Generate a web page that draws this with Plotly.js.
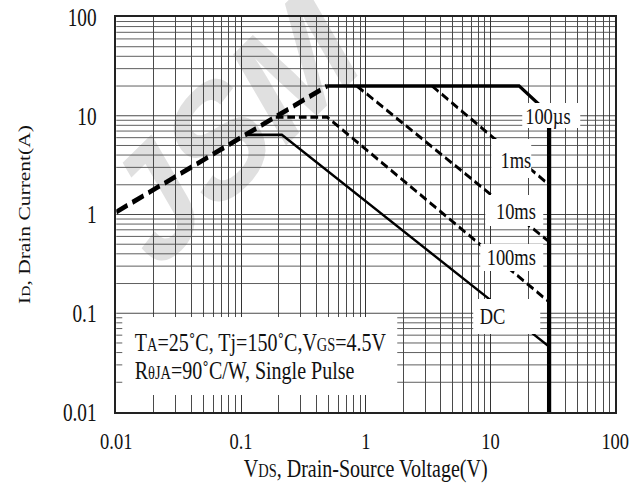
<!DOCTYPE html>
<html>
<head>
<meta charset="utf-8">
<script src="https://cdn.plot.ly/plotly-3.0.1.min.js"></script>
<style>
  html, body { margin: 0; padding: 0; overflow: hidden; background: #fff; }
  #wrap { width: 633px; height: 484px; overflow: hidden; }
  #chart { transform-origin: 0 0; }
</style>
</head>
<body>
<div id="wrap"><div id="chart"></div></div>
<script>
// ---- data (VDS in V, ID in A) ----
const rdsV   = [0.01, 0.49];
const rdsI   = [1.06, 20];
const us100V = [0.49, 17, 29.5];
const us100I = [20, 20, 10.5];
const ms1V   = [3.4, 29.5];
const ms1I   = [20, 2.0];
const ms10V  = [0.85, 29.5];
const ms10I  = [20, 0.53];
const ms100V = [0.19, 0.49, 29.5];
const ms100I = [9.7, 9.7, 0.13];
const dcV    = [0.11, 0.213, 29.5];
const dcI    = [6.4, 6.4, 0.046];
const bvV    = [29.5, 29.5];
const bvI    = [10.5, 0.01];

const tickVals = [0.01, 0.1, 1, 10, 100];
const tickText = ['0.01', '0.1', '1', '10', '100'];
const curveLabels = ['100µs', '1ms', '10ms', '100ms', 'DC'];
const condLine1 = 'T<span style="font-size:72%">A</span>=25˚C, Tj=150˚C,V<span style="font-size:72%">GS</span>=4.5V';
const condLine2 = 'R<span style="font-size:72%">θJA</span>=90˚C/W, Single Pulse';
const xTitle = 'V<span style="font-size:72%">DS</span>, Drain-Source Voltage(V)';
const yTitle = 'I<span style="font-size:72%">D</span>, Drain Current(A)';

// ---- rendering ----
const f = 0.77;                      // horizontal condensation of the reference
const W = Math.round(633 / f);
const H = 484;
const PL = 116, PR = 615, PT = 17, PB = 412;   // plot box in page pixels
const px = (x) => (x - PL) / (PR - PL);
const py = (y) => (PB - y) / (PB - PT);

const minorVals = [];
for (let e = -2; e < 2; e++) for (let d = 2; d <= 9; d++) minorVals.push(d * Math.pow(10, e));

const serif = 'Liberation Serif, Times New Roman, serif';

function line(x, y, width, dash) {
  return { x: x, y: y, type: 'scatter', mode: 'lines', hoverinfo: 'skip',
           line: { color: '#000', width: width, dash: dash || 'solid' } };
}

const traces = [
  line(ms1V, ms1I, 3.2, '10px,5px'),
  line(ms10V, ms10I, 3.2, '10px,5px'),
  line(ms100V, ms100I, 3.2, '10px,5px'),
  line(dcV, dcI, 2.6),
  line(us100V, us100I, 3.6),
  line(rdsV, rdsI, 5, '16px,7px'),
  line(bvV, bvI, 5.5)
];

function box(x0, x1, y0, y1) {
  return { type: 'rect', xref: 'paper', yref: 'paper', layer: 'above',
           x0: px(x0), x1: px(x1), y0: py(y1), y1: py(y0),
           fillcolor: '#fff', line: { width: 0 } };
}

const shapes = [
  { type: 'rect', xref: 'paper', yref: 'paper', layer: 'below',
    x0: px(210), x1: px(240), y0: py(128), y1: py(98),
    fillcolor: 'rgba(0,0,0,0)', line: { width: 0 },
    label: { text: 'JSM', textangle: -37,
             font: { size: 166, color: '#e0e0e0', family: 'Liberation Sans, Arial, sans-serif', weight: 'bold' } } },
  box(522, 580, 103, 128),
  box(491, 531, 139, 178),
  box(485, 543, 195, 226),
  box(480, 543, 244, 271),
  box(473, 540, 299, 334),
  box(122, 397, 317, 395)
];

const labelPos = [[548, 116], [516, 160], [516, 211], [511, 257], [492, 316]];
const annotations = curveLabels.map((t, i) => ({
  text: t, xref: 'paper', yref: 'paper', x: px(labelPos[i][0]), y: py(labelPos[i][1]),
  xanchor: 'center', yanchor: 'middle', showarrow: false,
  font: { family: serif, size: 24, color: '#111' }
}));
annotations.push({
  text: condLine1, xref: 'paper', yref: 'paper',
  x: px(133), y: py(342), xanchor: 'left', yanchor: 'middle', align: 'left',
  showarrow: false, font: { family: serif, size: 26, color: '#111' }
});
annotations.push({
  text: condLine2, xref: 'paper', yref: 'paper',
  x: px(133), y: py(370), xanchor: 'left', yanchor: 'middle', align: 'left',
  showarrow: false, font: { family: serif, size: 26, color: '#111' }
});

const axisCommon = {
  type: 'log', range: [-2, 2], tickvals: tickVals, ticktext: tickText,
  showgrid: true, gridcolor: '#333', zeroline: false,
  showline: true, mirror: true, linecolor: '#222', ticks: '',
  tickfont: { family: serif, size: 25, color: '#111' }, fixedrange: true
};

const layout = {
  width: W, height: H,
  margin: { l: PL / f, r: W - PR / f, t: PT, b: H - PB },
  paper_bgcolor: '#fff', plot_bgcolor: '#fff',
  showlegend: false,
  font: { family: serif, color: '#111' },
  xaxis: Object.assign({}, axisCommon, {
    gridwidth: 1.3, linewidth: 2.2, ticklabelstandoff: 6,
    tickfont: { family: serif, size: 24, color: '#111' },
    minor: { tickvals: minorVals, showgrid: true, gridcolor: '#4a4a4a', gridwidth: 1.3, ticks: '' },
    title: { text: xTitle, font: { family: serif, size: 26, color: '#111' }, standoff: 4 }
  }),
  yaxis: Object.assign({}, axisCommon, {
    gridwidth: 1, linewidth: 2.6, ticklabelstandoff: 18,
    minor: { tickvals: minorVals, showgrid: true, gridcolor: '#4a4a4a', gridwidth: 1, ticks: '' },
    title: { text: yTitle, font: { family: serif, size: 21.5, color: '#111' }, standoff: 36 }
  }),
  shapes: shapes,
  annotations: annotations
};

const el = document.getElementById('chart');
el.style.width = W + 'px';
el.style.height = H + 'px';
el.style.transform = 'scaleX(' + f + ')';
Plotly.newPlot(el, traces, layout, { staticPlot: true, displayModeBar: false });
</script>
</body>
</html>
